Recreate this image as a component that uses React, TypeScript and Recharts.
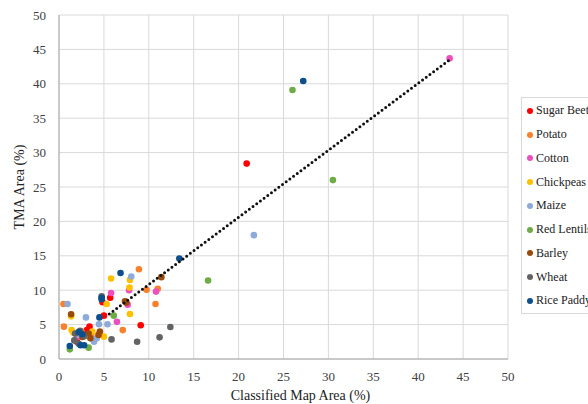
import { CartesianGrid, Scatter, ScatterChart, XAxis, YAxis } from 'recharts';

type Pt = { x: number; y: number };

const toPts = (rows: number[][]): Pt[] => rows.map(([x, y]) => ({ x, y }));

// values (classified map area %, TMA area %)
const sugarBeet = toPts([[20.9, 28.4], [9.1, 4.9], [5.0, 6.3], [5.7, 8.9], [4.85, 8.25], [3.4, 4.7], [2.0, 2.5], [2.8, 3.8], [3.1, 4.2]]);
const potato = toPts([[8.9, 13.05], [9.75, 10.05], [11.0, 10.2], [10.75, 8.0], [7.1, 4.2], [0.55, 4.7], [0.5, 8.0], [3.6, 3.6], [2.5, 4.0]]);
const cotton = toPts([[43.5, 43.7], [5.8, 9.6], [7.8, 10.0], [10.8, 9.8], [7.65, 7.9], [6.45, 5.4], [2.0, 3.2]]);
const chickpeas = toPts([[5.8, 11.7], [7.9, 11.5], [7.85, 10.4], [5.3, 8.0], [7.9, 6.55], [5.0, 3.25], [1.4, 4.2], [1.35, 6.2], [1.6, 3.8], [3.7, 4.0]]);
const maize = toPts([[21.7, 18.0], [8.05, 12.0], [0.95, 8.0], [3.0, 6.05], [5.4, 5.05], [4.45, 5.05], [4.2, 3.0], [3.9, 2.5], [2.2, 3.5]]);
const redLentils = toPts([[26.0, 39.1], [30.5, 26.0], [16.6, 11.4], [6.1, 6.3], [1.2, 1.4], [3.3, 1.65]]);
const barley = toPts([[11.4, 11.9], [7.35, 8.4], [1.35, 6.5], [4.55, 4.0], [4.4, 3.5], [3.3, 3.7], [3.5, 3.0], [2.6, 3.2], [7.5, 8.2]]);
const wheat = toPts([[12.4, 4.65], [11.2, 3.15], [8.7, 2.5], [5.85, 2.85], [4.75, 9.1], [1.8, 3.7], [2.35, 4.1], [2.8, 3.3], [1.7, 2.7], [2.2, 2.2]]);
const ricePaddy = toPts([[27.2, 40.4], [13.4, 14.6], [6.85, 12.5], [4.75, 8.7], [4.5, 6.05], [2.6, 3.6], [1.2, 1.9], [2.4, 2.0], [2.8, 2.0], [2.2, 3.9], [4.75, 8.9]]);

const trendLine = toPts([[5.6, 6.55], [43.5, 43.5]]);

const ticks = [0, 5, 10, 15, 20, 25, 30, 35, 40, 45, 50];

const series = [
  { name: 'Sugar Beet', data: sugarBeet, color: '#ff0000' },
  { name: 'Potato', data: potato, color: '#f7812c' },
  { name: 'Cotton', data: cotton, color: '#ee4fbf' },
  { name: 'Chickpeas', data: chickpeas, color: '#ffc000' },
  { name: 'Maize', data: maize, color: '#8eaadb' },
  { name: 'Red Lentils', data: redLentils, color: '#6fac46' },
  { name: 'Barley', data: barley, color: '#9a4a0a' },
  { name: 'Wheat', data: wheat, color: '#636363' },
  { name: 'Rice Paddy', data: ricePaddy, color: '#0d4e8c' },
];

const FONT = '"Liberation Serif", "Times New Roman", serif';

// the chart fills the whole window, so drop the default body margin
if (typeof document !== 'undefined') {
  document.body.style.margin = '0';
  document.body.style.overflow = 'hidden';
}

const Dot = (props: any) => <circle cx={props.cx} cy={props.cy} r={3.3} fill={props.fill} />;

// x title sits a little right of the plot centre in the source
const XTitle = (props: any) => {
  const { x, y, width, height } = props.viewBox;
  return (
    <text
      x={x + width / 2 + 17}
      y={y + height - 4}
      textAnchor="middle"
      fill="#222"
      fontSize={14}
      fontFamily={FONT}
    >
      Classified Map Area (%)
    </text>
  );
};

// legend sits past the plot and runs off the right edge, as in the source image
const LegendBox = () => (
  <div
    style={{
      position: 'absolute',
      left: 521,
      top: 97,
      width: 90,
      border: '1px solid #d9d9d9',
      padding: '1px 0 0 5px',
      fontFamily: FONT,
      fontSize: 12,
      color: '#222',
      whiteSpace: 'nowrap',
      background: '#fff',
    }}
  >
    {series.map((s) => (
      <div key={s.name} style={{ height: 23.75, display: 'flex', alignItems: 'center' }}>
        <span
          style={{
            display: 'inline-block',
            width: 6,
            height: 6,
            borderRadius: 3,
            background: s.color,
            marginRight: 3,
          }}
        />
        {s.name}
      </div>
    ))}
  </div>
);

export default function App() {
  return (
    <div style={{ position: 'relative', width: 588, height: 404, overflow: 'hidden' }}>
      <ScatterChart width={588} height={404} margin={{ top: 15, right: 80, bottom: 0, left: 8 }}>
        <CartesianGrid stroke="#d9d9d9" />
        <XAxis
          type="number"
          dataKey="x"
          domain={[0, 50]}
          ticks={ticks}
          height={45}
          tickLine={false}
          axisLine={{ stroke: '#a6a6a6' }}
          tick={{ fill: '#404040', fontSize: 13, fontFamily: FONT }}
          tickMargin={7}
          label={XTitle}
        />
        <YAxis
          type="number"
          dataKey="y"
          domain={[0, 50]}
          ticks={ticks}
          width={51}
          tickLine={false}
          axisLine={{ stroke: '#a6a6a6' }}
          tick={{ fill: '#404040', fontSize: 13, fontFamily: FONT }}
          tickMargin={7}
          label={{
            value: 'TMA Area (%)',
            angle: -90,
            position: 'insideLeft',
            offset: 11,
            style: { textAnchor: 'middle' },
            fill: '#222',
            fontSize: 14,
            fontFamily: FONT,
          }}
        />
        {series.map((s) => (
          <Scatter
            key={s.name}
            name={s.name}
            data={s.data}
            fill={s.color}
            shape={Dot}
            isAnimationActive={false}
          />
        ))}
        <Scatter
          name="trend"
          data={trendLine}
          line={{ stroke: '#111', strokeWidth: 3, strokeDasharray: '0 4.6', strokeLinecap: 'round' }}
          shape={() => <g />}
          legendType="none"
          isAnimationActive={false}
        />
      </ScatterChart>
      <LegendBox />
    </div>
  );
}
